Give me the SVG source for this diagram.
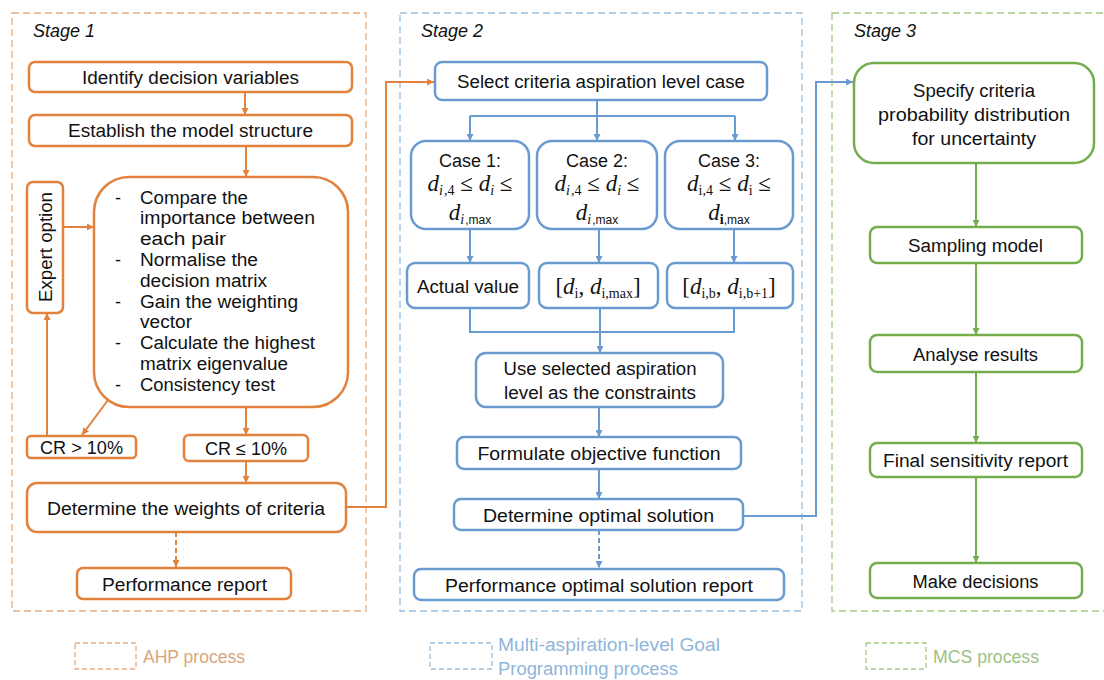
<svg xmlns="http://www.w3.org/2000/svg" width="1104" height="680" viewBox="0 0 1104 680">
<style>
  .t { font-family: "Liberation Sans", Arial, sans-serif; font-size: 18px; fill: #111; }
  .c { text-anchor: middle; }
  .st { font-style: italic; }
  .m { font-family: "Liberation Serif", "Times New Roman", serif; font-size: 23px; fill: #111; text-anchor: middle; }
  .mi { font-style: italic; }
  .sb { font-size: 14px; }
  .ss { font-family: "Liberation Sans", Arial, sans-serif; font-size: 12px; }
  .ob { fill: #fff; stroke: #E2823C; stroke-width: 2.5; }
  .bb { fill: #fff; stroke: #6A9BD0; stroke-width: 2.5; }
  .gb { fill: #fff; stroke: #74AD4E; stroke-width: 2.5; }
  .ol { fill: none; stroke: #E2823C; stroke-width: 2; }
  .bl { fill: none; stroke: #6A9BD0; stroke-width: 2; }
  .gl { fill: none; stroke: #74AD4E; stroke-width: 2; }
  .dsh { stroke-dasharray: 5 3; }
  .fo { fill: none; stroke: #E8AC80; stroke-width: 1.3; stroke-dasharray: 7 4; }
  .fb { fill: none; stroke: #9CBEDC; stroke-width: 1.3; stroke-dasharray: 7 4; }
  .fg { fill: none; stroke: #A6C98E; stroke-width: 1.3; stroke-dasharray: 7 4; }
  .lo { fill: #D9A67A; }
  .lb { fill: #8FB5DA; }
  .lg { fill: #9CC283; }
</style>
<defs>
  <marker id="ao" viewBox="0 0 8 8" refX="8" refY="4" markerWidth="7" markerHeight="7" markerUnits="userSpaceOnUse" orient="auto"><path d="M0,0 L8,4 L0,8 z" fill="#E2823C"/></marker>
  <marker id="ab" viewBox="0 0 8 8" refX="8" refY="4" markerWidth="7" markerHeight="7" markerUnits="userSpaceOnUse" orient="auto"><path d="M0,0 L8,4 L0,8 z" fill="#6A9BD0"/></marker>
  <marker id="ag" viewBox="0 0 8 8" refX="8" refY="4" markerWidth="7" markerHeight="7" markerUnits="userSpaceOnUse" orient="auto"><path d="M0,0 L8,4 L0,8 z" fill="#74AD4E"/></marker>
</defs>
<rect width="1104" height="680" fill="#fff"/>

<!-- stage frames -->
<g id="frames">
  <rect class="fo" x="12" y="13" width="354" height="598"/>
  <text class="t st" x="33" y="37">Stage 1</text>
  <rect class="fb" x="400" y="13" width="402" height="598"/>
  <text class="t st" x="421" y="37">Stage 2</text>
  <rect class="fg" x="832" y="13" width="280" height="598"/>
  <text class="t st" x="854" y="37">Stage 3</text>
</g>

<!-- connectors -->
<g id="connectors">
  <line class="ol" x1="245" y1="92" x2="245" y2="115" marker-end="url(#ao)"/>
  <line class="ol" x1="246" y1="146" x2="246" y2="177" marker-end="url(#ao)"/>
  <line class="ol" x1="63" y1="227" x2="94" y2="227" marker-end="url(#ao)"/>
  <line class="ol" x1="108" y1="400" x2="82" y2="435" marker-end="url(#ao)"/>
  <line class="ol" x1="47" y1="436" x2="47" y2="313" marker-end="url(#ao)"/>
  <line class="ol" x1="246" y1="407" x2="246" y2="435" marker-end="url(#ao)"/>
  <line class="ol" x1="246" y1="461" x2="246" y2="483" marker-end="url(#ao)"/>
  <line class="ol dsh" x1="176" y1="532" x2="176" y2="567" marker-end="url(#ao)"/>
  <polyline class="ol" points="346,507 386,507 386,82 434,82" marker-end="url(#ao)"/>

  <line class="bl" x1="597" y1="100" x2="597" y2="116"/>
  <line class="bl" x1="470" y1="116" x2="735" y2="116"/>
  <line class="bl" x1="470" y1="116" x2="470" y2="141" marker-end="url(#ab)"/>
  <line class="bl" x1="597" y1="116" x2="597" y2="141" marker-end="url(#ab)"/>
  <line class="bl" x1="735" y1="116" x2="735" y2="141" marker-end="url(#ab)"/>
  <line class="bl" x1="470" y1="229" x2="470" y2="263" marker-end="url(#ab)"/>
  <line class="bl" x1="599" y1="229" x2="599" y2="263" marker-end="url(#ab)"/>
  <line class="bl" x1="734" y1="229" x2="734" y2="263" marker-end="url(#ab)"/>
  <polyline class="bl" points="470,308 470,332 734,332 734,308"/>
  <line class="bl" x1="600" y1="308" x2="600" y2="353" marker-end="url(#ab)"/>
  <line class="bl" x1="599" y1="407" x2="599" y2="437" marker-end="url(#ab)"/>
  <line class="bl" x1="599" y1="469" x2="599" y2="499" marker-end="url(#ab)"/>
  <line class="bl dsh" x1="599" y1="530" x2="599" y2="568" marker-end="url(#ab)"/>
  <polyline class="bl" points="743,516 816,516 816,82 853,82" marker-end="url(#ab)"/>

  <line class="gl" x1="976" y1="163" x2="976" y2="227" marker-end="url(#ag)"/>
  <line class="gl" x1="976" y1="263" x2="976" y2="335" marker-end="url(#ag)"/>
  <line class="gl" x1="976" y1="372" x2="976" y2="443" marker-end="url(#ag)"/>
  <line class="gl" x1="976" y1="477" x2="976" y2="563" marker-end="url(#ag)"/>
</g>

<!-- Stage 1 nodes -->
<g id="identify">
  <rect class="ob" x="29" y="62" width="323" height="30" rx="6"/>
  <text class="t c" x="190.5" y="84" textLength="217" lengthAdjust="spacingAndGlyphs">Identify decision variables</text>
</g>
<g id="establish">
  <rect class="ob" x="29" y="115" width="323" height="31" rx="6"/>
  <text class="t c" x="190.5" y="137" textLength="245" lengthAdjust="spacingAndGlyphs">Establish the model structure</text>
</g>
<g id="expert">
  <rect class="ob" x="27" y="182" width="36" height="131" rx="6"/>
  <text class="t c" transform="translate(51.5,247) rotate(-90)" x="0" y="0" textLength="110" lengthAdjust="spacingAndGlyphs">Expert option</text>
</g>
<g id="ahp-steps">
  <rect class="ob" x="94" y="177" width="254" height="230" rx="35"/>
  <g class="t">
    <text x="115" y="203.5">-</text>
    <text x="115" y="266">-</text>
    <text x="115" y="307.5">-</text>
    <text x="115" y="349">-</text>
    <text x="115" y="390.7">-</text>
    <text x="140" y="203.5" textLength="108" lengthAdjust="spacingAndGlyphs">Compare the</text>
    <text x="140" y="224.3" textLength="175" lengthAdjust="spacingAndGlyphs">importance between</text>
    <text x="140" y="245.1" textLength="86" lengthAdjust="spacingAndGlyphs">each pair</text>
    <text x="140" y="265.9" textLength="118" lengthAdjust="spacingAndGlyphs">Normalise the</text>
    <text x="140" y="286.7" textLength="127" lengthAdjust="spacingAndGlyphs">decision matrix</text>
    <text x="140" y="307.5" textLength="158" lengthAdjust="spacingAndGlyphs">Gain the weighting</text>
    <text x="140" y="328.3" textLength="52" lengthAdjust="spacingAndGlyphs">vector</text>
    <text x="140" y="349.1" textLength="175" lengthAdjust="spacingAndGlyphs">Calculate the highest</text>
    <text x="140" y="369.9" textLength="148" lengthAdjust="spacingAndGlyphs">matrix eigenvalue</text>
    <text x="140" y="390.7" textLength="135" lengthAdjust="spacingAndGlyphs">Consistency test</text>
  </g>
</g>
<g id="cr-gt">
  <rect class="ob" x="27" y="436" width="109" height="22" rx="4"/>
  <text class="t c" x="81.5" y="454" textLength="83" lengthAdjust="spacingAndGlyphs">CR &gt; 10%</text>
</g>
<g id="cr-le">
  <rect class="ob" x="184" y="435" width="124" height="26" rx="5"/>
  <text class="t c" x="246" y="455" textLength="82" lengthAdjust="spacingAndGlyphs">CR ≤ 10%</text>
</g>
<g id="weights">
  <rect class="ob" x="27" y="483" width="319" height="49" rx="10"/>
  <text class="t c" x="186" y="515" textLength="278" lengthAdjust="spacingAndGlyphs">Determine the weights of criteria</text>
</g>
<g id="perf-report">
  <rect class="ob" x="77" y="568" width="214" height="31" rx="6"/>
  <text class="t c" x="184.5" y="591" textLength="165" lengthAdjust="spacingAndGlyphs">Performance report</text>
</g>

<!-- Stage 2 nodes -->
<g id="select-case">
  <rect class="bb" x="435" y="62" width="332" height="38" rx="7"/>
  <text class="t c" x="601" y="88" textLength="288" lengthAdjust="spacingAndGlyphs">Select criteria aspiration level case</text>
</g>
<g id="case1">
  <rect class="bb" x="411" y="141" width="118" height="88" rx="15"/>
  <text class="t c" x="470" y="167" textLength="62" lengthAdjust="spacingAndGlyphs">Case 1:</text>
  <text class="m" x="470" y="191"><tspan class="mi">d</tspan><tspan class="sb mi" dy="4">i</tspan><tspan class="sb" dx="1">,4</tspan><tspan dy="-4"> ≤ </tspan><tspan class="mi">d</tspan><tspan class="sb mi" dy="4">i</tspan><tspan dy="-4"> ≤</tspan></text>
  <text class="m" x="470" y="220"><tspan class="mi">d</tspan><tspan class="sb mi" dy="4">i</tspan><tspan class="ss" dx="1">,max</tspan></text>
</g>
<g id="case2">
  <rect class="bb" x="537" y="141" width="120" height="88" rx="15"/>
  <text class="t c" x="597" y="167" textLength="62" lengthAdjust="spacingAndGlyphs">Case 2:</text>
  <text class="m" x="597" y="191"><tspan class="mi">d</tspan><tspan class="sb mi" dy="4">i</tspan><tspan class="sb" dx="1">,4</tspan><tspan dy="-4"> ≤ </tspan><tspan class="mi">d</tspan><tspan class="sb mi" dy="4">i</tspan><tspan dy="-4"> ≤</tspan></text>
  <text class="m" x="597" y="220"><tspan class="mi">d</tspan><tspan class="sb mi" dy="4">i</tspan><tspan class="ss" dx="1">,max</tspan></text>
</g>
<g id="case3">
  <rect class="bb" x="665" y="141" width="128" height="88" rx="15"/>
  <text class="t c" x="729" y="167" textLength="62" lengthAdjust="spacingAndGlyphs">Case 3:</text>
  <text class="m" x="729" y="191"><tspan class="mi">d</tspan><tspan class="sb" dy="4">i,4</tspan><tspan dy="-4"> ≤ </tspan><tspan class="mi">d</tspan><tspan class="sb" dy="4">i</tspan><tspan dy="-4"> ≤</tspan></text>
  <text class="m" x="729" y="220"><tspan class="mi">d</tspan><tspan class="sb" dy="4" font-weight="bold">i</tspan><tspan class="ss">,max</tspan></text>
</g>
<g id="actual-value">
  <rect class="bb" x="407" y="263" width="122" height="45" rx="8"/>
  <text class="t c" x="468" y="293" textLength="102" lengthAdjust="spacingAndGlyphs">Actual value</text>
</g>
<g id="range2">
  <rect class="bb" x="539" y="263" width="119" height="45" rx="8"/>
  <text class="m" x="598" y="294">[<tspan class="mi">d</tspan><tspan class="sb" dy="4">i</tspan><tspan dy="-4">, </tspan><tspan class="mi">d</tspan><tspan class="sb" dy="4">i,max</tspan><tspan dy="-4">]</tspan></text>
</g>
<g id="range3">
  <rect class="bb" x="667" y="263" width="126" height="45" rx="8"/>
  <text class="m" x="729" y="294">[<tspan class="mi">d</tspan><tspan class="sb" dy="4">i,b</tspan><tspan dy="-4">, </tspan><tspan class="mi">d</tspan><tspan class="sb" dy="4">i,b+1</tspan><tspan dy="-4">]</tspan></text>
</g>
<g id="use-selected">
  <rect class="bb" x="476" y="353" width="247" height="54" rx="10"/>
  <text class="t c" x="600" y="375" textLength="193" lengthAdjust="spacingAndGlyphs">Use selected aspiration</text>
  <text class="t c" x="600" y="399" textLength="192" lengthAdjust="spacingAndGlyphs">level as the constraints</text>
</g>
<g id="formulate">
  <rect class="bb" x="457" y="437" width="284" height="32" rx="7"/>
  <text class="t c" x="599" y="460" textLength="243" lengthAdjust="spacingAndGlyphs">Formulate objective function</text>
</g>
<g id="optimal">
  <rect class="bb" x="454" y="499" width="289" height="31" rx="7"/>
  <text class="t c" x="598.5" y="522" textLength="231" lengthAdjust="spacingAndGlyphs">Determine optimal solution</text>
</g>
<g id="perf-optimal">
  <rect class="bb" x="414" y="569" width="370" height="31" rx="7"/>
  <text class="t c" x="599" y="592" textLength="308" lengthAdjust="spacingAndGlyphs">Performance optimal solution report</text>
</g>

<!-- Stage 3 nodes -->
<g id="specify">
  <rect class="gb" x="854" y="63" width="240" height="100" rx="20"/>
  <text class="t c" x="974" y="97" textLength="122" lengthAdjust="spacingAndGlyphs">Specify criteria</text>
  <text class="t c" x="974" y="121" textLength="192" lengthAdjust="spacingAndGlyphs">probability distribution</text>
  <text class="t c" x="974" y="145" textLength="124" lengthAdjust="spacingAndGlyphs">for uncertainty</text>
</g>
<g id="sampling">
  <rect class="gb" x="870" y="227" width="212" height="36" rx="7"/>
  <text class="t c" x="975.5" y="252" textLength="135" lengthAdjust="spacingAndGlyphs">Sampling model</text>
</g>
<g id="analyse">
  <rect class="gb" x="870" y="335" width="212" height="37" rx="7"/>
  <text class="t c" x="975.5" y="361" textLength="125" lengthAdjust="spacingAndGlyphs">Analyse results</text>
</g>
<g id="final-report">
  <rect class="gb" x="870" y="443" width="212" height="34" rx="7"/>
  <text class="t c" x="975.5" y="467" textLength="185" lengthAdjust="spacingAndGlyphs">Final sensitivity report</text>
</g>
<g id="decisions">
  <rect class="gb" x="870" y="563" width="212" height="35" rx="7"/>
  <text class="t c" x="975.5" y="588" textLength="126" lengthAdjust="spacingAndGlyphs">Make decisions</text>
</g>

<!-- legend -->
<g id="legend">
  <rect class="fo" x="75" y="643" width="61" height="26" style="stroke-dasharray:5 3"/>
  <text class="t lo" x="143" y="663" textLength="102" lengthAdjust="spacingAndGlyphs">AHP process</text>
  <rect class="fb" x="430" y="643" width="62" height="26" style="stroke-dasharray:5 3"/>
  <text class="t lb" x="498" y="651" textLength="222" lengthAdjust="spacingAndGlyphs">Multi-aspiration-level Goal</text>
  <text class="t lb" x="498" y="675" textLength="180" lengthAdjust="spacingAndGlyphs">Programming process</text>
  <rect class="fg" x="866" y="643" width="60" height="26" style="stroke-dasharray:5 3"/>
  <text class="t lg" x="933" y="663" textLength="106" lengthAdjust="spacingAndGlyphs">MCS process</text>
</g>
</svg>
